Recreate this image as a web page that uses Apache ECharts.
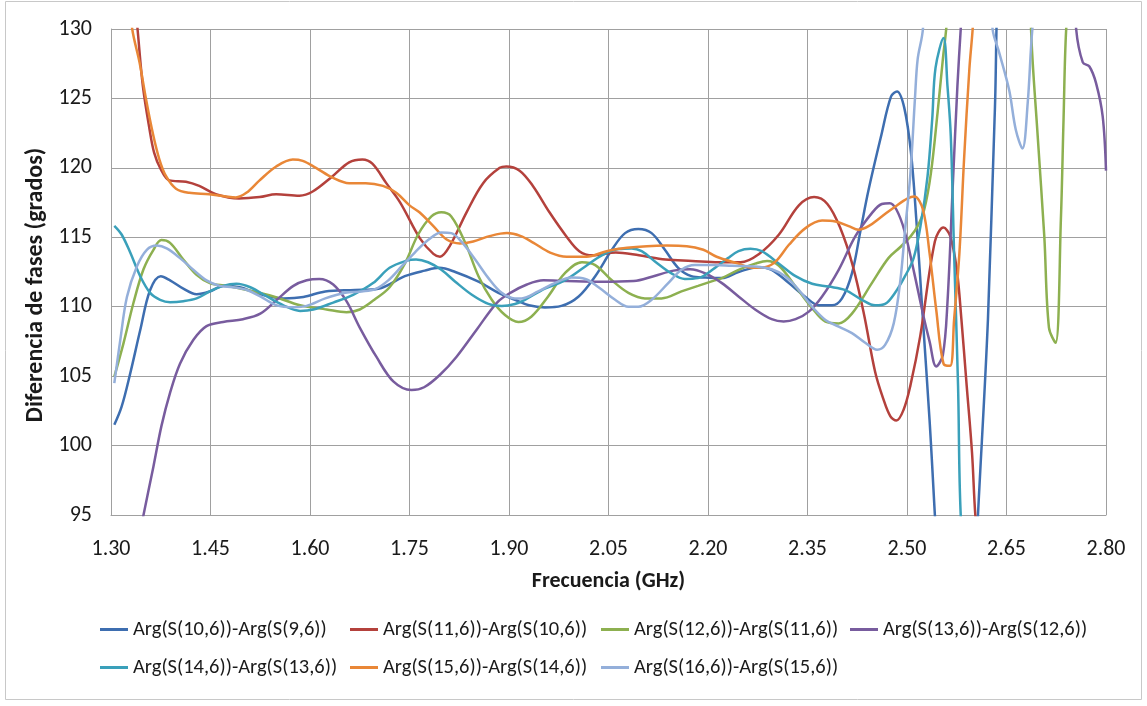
<!DOCTYPE html>
<html><head><meta charset="utf-8">
<script src="https://cdn.jsdelivr.net/npm/echarts@6/dist/echarts.min.js"></script>
<style>html,body{margin:0;padding:0;background:#fff}#c{width:1147px;height:706px}</style>
</head><body><div id="c"></div>
<script>
// ---- data (frequency GHz, phase difference degrees) ----
const xTicks = [1.30,1.45,1.60,1.75,1.90,2.05,2.20,2.35,2.50,2.65,2.80];
const seriesNames = [
  'Arg(S(10,6))-Arg(S(9,6))','Arg(S(11,6))-Arg(S(10,6))','Arg(S(12,6))-Arg(S(11,6))',
  'Arg(S(13,6))-Arg(S(12,6))','Arg(S(14,6))-Arg(S(13,6))','Arg(S(15,6))-Arg(S(14,6))',
  'Arg(S(16,6))-Arg(S(15,6))'
];
const s10_9 = [[1.305,101.5],[1.316,102.8],[1.329,105.2],[1.344,108.3],[1.359,111.2],[1.375,112.2],[1.389,111.9],[1.409,111.3],[1.429,110.9],[1.449,111.1],[1.469,111.5],[1.494,111.4],[1.525,110.9],[1.56,110.6],[1.59,110.7],[1.623,111.1],[1.668,111.2],[1.703,111.3],[1.743,112.2],[1.773,112.6],[1.795,112.8],[1.819,112.5],[1.854,111.8],[1.884,111.0],[1.909,110.5],[1.93,110.1],[1.954,109.95],[1.979,110.06],[2.005,110.74],[2.03,112.2],[2.055,114.1],[2.075,115.3],[2.095,115.6],[2.115,115.3],[2.135,114.1],[2.155,112.8],[2.175,112.2],[2.196,112.1],[2.221,112.06],[2.246,112.5],[2.276,112.85],[2.296,112.66],[2.322,111.7],[2.347,110.7],[2.367,110.1],[2.387,110.1],[2.402,110.6],[2.417,112.4],[2.43,115.5],[2.442,118.4],[2.461,122.3],[2.476,125.15],[2.485,125.5],[2.496,124.3],[2.506,121.1],[2.514,116.3],[2.524,109.05],[2.534,101.85],[2.55,89],[2.575,76],[2.60,88],[2.607,95],[2.622,109.05],[2.632,123.5],[2.645,138],[2.70,150],[2.80,150]];
const s11_10 = [[1.30,150],[1.32,140],[1.34,130],[1.348,125.9],[1.358,122.8],[1.365,121.1],[1.375,119.9],[1.388,119.1],[1.413,119.0],[1.433,118.7],[1.458,118.1],[1.493,117.8],[1.524,117.9],[1.549,118.1],[1.584,118.0],[1.604,118.3],[1.634,119.4],[1.659,120.4],[1.679,120.6],[1.694,120.3],[1.715,118.9],[1.736,117.5],[1.766,114.9],[1.786,113.8],[1.796,113.6],[1.811,114.4],[1.836,116.8],[1.861,118.9],[1.886,120.0],[1.896,120.1],[1.916,119.8],[1.936,118.7],[1.961,116.8],[1.986,115.1],[2.006,114.0],[2.026,113.7],[2.061,113.9],[2.096,113.7],[2.136,113.4],[2.176,113.3],[2.216,113.2],[2.249,113.2],[2.277,113.8],[2.307,115.2],[2.337,117.3],[2.36,117.9],[2.38,117.4],[2.4,115.6],[2.418,113.0],[2.435,109.5],[2.452,105.3],[2.464,103.4],[2.475,102.1],[2.484,101.8],[2.495,102.6],[2.505,104.3],[2.52,107.9],[2.542,114.7],[2.555,115.7],[2.565,115.1],[2.575,112.7],[2.582,109.1],[2.59,104.3],[2.598,99.5],[2.603,95],[2.62,85],[2.80,80]];
const s12_11 = [[1.305,104.97],[1.319,107.4],[1.334,110.3],[1.349,112.7],[1.364,114.1],[1.376,114.8],[1.389,114.6],[1.409,113.4],[1.429,112.3],[1.449,111.7],[1.474,111.5],[1.505,111.2],[1.545,110.74],[1.585,110.1],[1.625,109.8],[1.655,109.6],[1.675,109.8],[1.697,110.5],[1.72,111.4],[1.743,113.1],[1.763,115.2],[1.783,116.5],[1.798,116.8],[1.813,116.5],[1.834,114.6],[1.854,112.2],[1.874,110.5],[1.894,109.4],[1.914,108.9],[1.934,109.3],[1.959,110.74],[1.984,112.4],[2.01,113.2],[2.03,113.0],[2.055,111.9],[2.08,111.0],[2.105,110.6],[2.13,110.6],[2.16,111.1],[2.185,111.5],[2.21,111.9],[2.221,112.06],[2.246,112.66],[2.271,113.1],[2.289,113.3],[2.307,112.95],[2.332,111.45],[2.357,109.9],[2.377,108.93],[2.397,108.8],[2.417,109.5],[2.447,111.7],[2.472,113.5],[2.49,114.3],[2.506,115.1],[2.516,115.8],[2.526,117.0],[2.536,119.6],[2.546,123.95],[2.554,127.8],[2.56,130.5],[2.58,145],[2.63,160],[2.68,145],[2.687,130],[2.697,122.3],[2.707,115.05],[2.714,108.5],[2.724,107.4],[2.732,116.3],[2.736,123.5],[2.74,130],[2.76,145],[2.80,155]];
const s13_12 = [[1.30,82],[1.325,89],[1.349,95.0],[1.364,98.5],[1.376,101.4],[1.389,103.8],[1.404,105.9],[1.424,107.6],[1.444,108.6],[1.469,108.9],[1.499,109.1],[1.525,109.5],[1.55,110.5],[1.575,111.5],[1.595,111.9],[1.614,112.0],[1.635,111.6],[1.655,110.4],[1.675,108.5],[1.70,106.4],[1.726,104.6],[1.753,104.0],[1.772,104.2],[1.796,105.1],[1.821,106.4],[1.852,108.4],[1.882,110.3],[1.902,111.0],[1.927,111.6],[1.952,111.9],[1.987,111.85],[2.037,111.8],[2.088,111.85],[2.118,112.2],[2.148,112.6],[2.173,112.7],[2.196,112.4],[2.221,111.7],[2.246,110.74],[2.271,109.8],[2.296,109.1],[2.314,108.93],[2.332,109.1],[2.352,109.65],[2.372,110.74],[2.397,112.66],[2.422,115.06],[2.447,116.74],[2.462,117.4],[2.474,117.46],[2.484,117.0],[2.496,115.5],[2.511,112.4],[2.524,109.5],[2.534,107.5],[2.544,105.7],[2.554,106.5],[2.561,110.3],[2.569,118.7],[2.576,125.9],[2.581,130],[2.60,145],[2.68,155],[2.745,138],[2.755,130],[2.765,127.6],[2.775,127.3],[2.785,126.1],[2.795,123.7],[2.80,119.8]];
const s14_13 = [[1.305,115.83],[1.316,115.2],[1.329,113.9],[1.344,112.2],[1.359,111.0],[1.374,110.5],[1.389,110.33],[1.409,110.4],[1.429,110.6],[1.449,111.1],[1.469,111.5],[1.489,111.65],[1.51,111.4],[1.535,110.74],[1.56,110.1],[1.585,109.7],[1.605,109.8],[1.635,110.3],[1.665,110.86],[1.695,111.7],[1.72,112.8],[1.745,113.3],[1.76,113.4],[1.778,113.2],[1.798,112.66],[1.819,111.8],[1.844,110.86],[1.869,110.2],[1.889,110.06],[1.909,110.2],[1.924,110.5],[1.954,111.3],[1.984,111.9],[2.015,112.9],[2.04,113.7],[2.065,114.15],[2.085,114.2],[2.10,114.0],[2.12,113.26],[2.145,112.4],[2.165,112.0],[2.185,112.06],[2.21,112.78],[2.23,113.5],[2.246,114.0],[2.264,114.17],[2.281,114.0],[2.307,113.1],[2.332,112.2],[2.357,111.65],[2.382,111.45],[2.407,111.2],[2.432,110.5],[2.452,110.1],[2.467,110.2],[2.482,111.0],[2.497,112.2],[2.51,113.5],[2.521,116.0],[2.531,119.4],[2.538,123.5],[2.543,127.2],[2.555,129.35],[2.561,125.9],[2.566,122.3],[2.571,113.86],[2.577,104.25],[2.581,95],[2.60,80],[2.80,80]];
const s15_14 = [[1.30,145],[1.32,135],[1.332,130],[1.343,127.6],[1.353,124.9],[1.363,122.5],[1.373,120.6],[1.383,119.4],[1.398,118.5],[1.418,118.2],[1.448,118.1],[1.473,117.94],[1.488,117.87],[1.504,118.2],[1.524,119.1],[1.549,120.1],[1.574,120.6],[1.589,120.5],[1.609,120.0],[1.634,119.3],[1.659,118.9],[1.684,118.9],[1.71,118.7],[1.73,118.2],[1.75,117.3],[1.765,116.8],[1.786,115.8],[1.806,114.84],[1.826,114.56],[1.846,114.7],[1.872,115.1],[1.897,115.3],[1.917,115.1],[1.937,114.6],[1.962,113.9],[1.987,113.6],[2.017,113.6],[2.047,114.0],[2.078,114.24],[2.108,114.36],[2.138,114.4],[2.168,114.36],[2.193,114.1],[2.213,113.6],[2.246,113.1],[2.266,112.8],[2.286,112.85],[2.302,113.26],[2.322,114.46],[2.347,115.66],[2.372,116.2],[2.392,116.14],[2.412,115.8],[2.427,115.54],[2.442,115.8],[2.462,116.5],[2.482,117.2],[2.501,117.8],[2.511,117.94],[2.524,117.0],[2.534,113.86],[2.544,109.8],[2.555,105.9],[2.565,105.74],[2.571,109.05],[2.579,113.86],[2.586,120.6],[2.594,127.1],[2.599,130],[2.62,145],[2.80,160]];
const s16_15 = [[1.305,104.5],[1.314,107.6],[1.324,110.7],[1.339,112.9],[1.354,114.1],[1.369,114.4],[1.384,114.2],[1.404,113.5],[1.424,112.66],[1.444,111.9],[1.464,111.5],[1.484,111.4],[1.505,111.2],[1.525,110.74],[1.55,110.1],[1.575,109.97],[1.595,110.06],[1.623,110.6],[1.653,111.0],[1.678,111.1],[1.698,111.26],[1.718,111.9],[1.738,112.9],[1.758,113.9],[1.778,114.8],[1.798,115.35],[1.813,115.3],[1.828,114.7],[1.849,113.4],[1.869,112.06],[1.889,111.0],[1.909,110.6],[1.919,110.6],[1.944,111.1],[1.969,111.7],[1.994,112.1],[2.015,112.0],[2.035,111.4],[2.06,110.5],[2.08,110.0],[2.095,110.0],[2.115,110.5],[2.14,111.7],[2.16,112.66],[2.18,113.0],[2.21,113.0],[2.236,112.95],[2.271,112.9],[2.296,112.7],[2.317,112.18],[2.337,111.2],[2.357,110.0],[2.377,109.05],[2.397,108.57],[2.417,108.1],[2.437,107.4],[2.455,106.9],[2.467,107.25],[2.48,108.8],[2.49,111.9],[2.497,115.5],[2.505,119.5],[2.512,125],[2.516,127.8],[2.524,130],[2.55,150],[2.60,150],[2.625,135],[2.629,130],[2.639,128.3],[2.654,125.6],[2.664,122.75],[2.674,121.4],[2.682,124.7],[2.689,130],[2.72,145],[2.80,150]];

const allData = [s10_9, s11_10, s12_11, s13_12, s14_13, s15_14, s16_15];
const colors = ['#3E6EB0','#B4413C','#8DB050','#785C9E','#3AA0BA','#E98737','#94AFDA'];
const FONT = 'Carlito, Calibri, "Liberation Sans", Arial, sans-serif';

const legendPos = [[95,614],[345,614],[596,614],[845,614],[95,652],[345,652],[596,652]];

const chart = echarts.init(document.getElementById('c'), null, {renderer:'canvas'});
chart.setOption({
  animation: false,
  backgroundColor: '#fff',
  color: colors,
  graphic: [{type:'rect', shape:{x:5.5,y:1.5,width:1136,height:698}, style:{fill:'none', stroke:'#c8c8c8', lineWidth:1}, silent:true}],
  legend: legendPos.map((p,i)=>({
    data:[seriesNames[i]], left:p[0], top:p[1], icon:'rect', itemWidth:28, itemHeight:3, itemGap:0,
    textStyle:{fontFamily:FONT, fontSize:20.5, color:'#1a1a1a'}, selectedMode:false
  })),
  grid: {left:111, right:41, top:29, bottom:191, containLabel:false},
  xAxis: {
    type:'value', min:1.30, max:2.80,
    name:'Frecuencia (GHz)', nameLocation:'middle', nameGap:55,
    nameTextStyle:{fontFamily:FONT, fontSize:22, fontWeight:'bold', color:'#1a1a1a'},
    axisLine:{show:true, lineStyle:{color:'#a0a0a0', width:1}},
    axisTick:{show:false, customValues:xTicks},
    axisLabel:{customValues:xTicks, fontFamily:FONT, fontSize:22, color:'#1a1a1a', margin:23, formatter:v=>v.toFixed(2)},
    splitLine:{show:true, lineStyle:{color:'#a0a0a0', width:1}}
  },
  yAxis: {
    type:'value', min:95, max:130, interval:5,
    name:'Diferencia de fases (grados)', nameLocation:'middle', nameGap:61, nameRotate:90,
    nameTextStyle:{fontFamily:FONT, fontSize:24, fontWeight:'bold', color:'#1a1a1a', padding:[0,26,0,0]},
    axisLine:{show:true, lineStyle:{color:'#a0a0a0', width:1}},
    axisTick:{show:false},
    axisLabel:{fontFamily:FONT, fontSize:22, color:'#1a1a1a', margin:19},
    splitLine:{show:true, lineStyle:{color:'#a0a0a0', width:1}}
  },
  series: allData.map((d,i)=>({
    name: seriesNames[i], type:'line', data:d, showSymbol:false, smooth:0.35,
    lineStyle:{width:2.5, color:colors[i]}, itemStyle:{color:colors[i]}, clip:true
  }))
});
</script>
</body></html>
